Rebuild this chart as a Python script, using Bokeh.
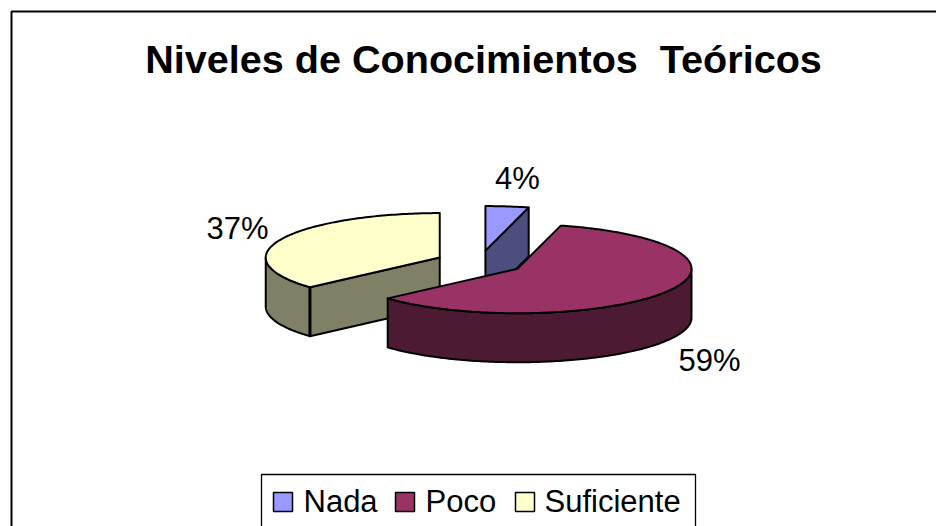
import numpy as np
from bokeh.plotting import figure
from bokeh.models import Range1d
from bokeh.core.properties import value
from bokeh.embed import file_html
from bokeh.resources import INLINE

title = "Niveles de Conocimientos\u00a0 Teóricos"
categories = ["Nada", "Poco", "Suficiente"]
shares = [4.0, 59.4, 36.6]
top_colors = ["#9999FF", "#993366", "#FFFFCC"]
wall_colors = ["#4D4D80", "#4D1A33", "#808066"]

FONT = value("Liberation Sans")
CX, CY, RX, RY = 479.4, 262.0, 174.0, 44.5
EX, EY, DEPTH = 44.0, 12.0, 49.0

p = figure(width=936, height=526, x_range=Range1d(0, 936), y_range=Range1d(526, 0),
           output_backend="svg", toolbar_location=None, min_border=0,
           x_axis_type=None, y_axis_type=None, outline_line_color=None,
           background_fill_color="white", border_fill_color="white")
p.grid.visible = False

# chart frame: only top and left edges are visible
p.line([11, 11, 936], [526, 11, 11], line_color="black", line_width=2)


def px(apex, deg):
    a = np.radians(deg)
    return apex[0] + RX * np.sin(a), apex[1] - RY * np.cos(a)


def arc(apex, a0, a1):
    t = np.linspace(a0, a1, max(2, int(abs(a1 - a0)) + 1))
    return px(apex, t)


fr = np.cumsum([0] + shares) / sum(shares) * 360
apexes = []
for i in range(3):
    mid = np.radians((fr[i] + fr[i + 1]) / 2)
    apexes.append((CX + EX * np.sin(mid), CY - EY * np.cos(mid)))

LW = 2.0


def poly(xs, ys, color, lw=LW):
    p.patch(list(xs), list(ys), fill_color=color, line_color="black", line_width=lw, line_join="round")


def radial_wall(i, deg, color):
    ap = apexes[i]
    ex, ey = px(ap, deg)
    poly([ap[0], ex, ex, ap[0]], [ap[1], ey, ey + DEPTH, ap[1] + DEPTH], color)


def outer_wall(i, a0, a1, color):
    x, y = arc(apexes[i], a0, a1)
    poly(np.r_[x, x[::-1]], np.r_[y, y[::-1] + DEPTH], color)


def top_face(i):
    ap = apexes[i]
    x, y = arc(ap, fr[i], fr[i + 1])
    poly(np.r_[ap[0], x], np.r_[ap[1], y], top_colors[i])


# Nada (back)
radial_wall(0, fr[1], wall_colors[0])
top_face(0)

# Suficiente
radial_wall(2, fr[2], wall_colors[2])
outer_wall(2, fr[2], 270, wall_colors[2])
ex, ey = px(apexes[2], fr[2])
p.line([ex, ex], [ey, ey + DEPTH], line_color="black", line_width=3)
top_face(2)

# Poco (front)
outer_wall(1, 90, fr[2], wall_colors[1])
top_face(1)

# title
p.text([483], [58], text=[title], text_font=FONT, text_font_size="39.6px", text_font_style="bold",
       text_align="center", text_baseline="alphabetic", text_color="black")

# percent labels
label_x = [517, 709, 237]
label_y = [178, 360, 228]
p.text(label_x, label_y, text=[f"{round(s)}%" for s in shares], text_font=FONT, text_font_size="31px",
       text_align="center", text_baseline="alphabetic", text_color="black")

# legend
p.line([261, 261, 695, 695], [526, 474, 474, 526], line_color="black", line_width=1.3)
swatch_x = [273, 395, 515]
legend_text_x = [303, 425, 544]
p.quad(left=swatch_x, right=[x + 19 for x in swatch_x], top=[492] * 3, bottom=[511] * 3,
       fill_color=top_colors, line_color="black", line_width=1.5)
p.text(legend_text_x, [501] * 3, text=categories, text_font=FONT, text_font_size="31px",
       text_align="left", text_baseline="alphabetic", text_color="black")

open("out.html", "w").write(file_html(p, INLINE))
